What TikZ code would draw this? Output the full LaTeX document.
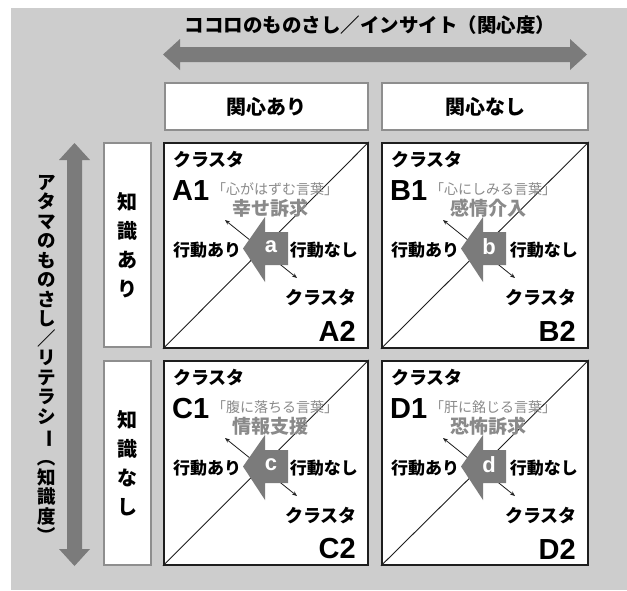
\documentclass[tikz,border=0pt]{standalone}
\usepackage{fontspec}
\usepackage{graphicx}
\setmainfont{Noto Sans CJK JP}
\newfontfamily\latinsans{Liberation Sans}
\usetikzlibrary{arrows.meta}
\definecolor{bggray}{HTML}{CDCDCD}
\definecolor{arrgray}{HTML}{7B7B7B}
\definecolor{txtgray}{HTML}{8A8A8A}
\definecolor{boxline}{HTML}{8E8E8E}
\definecolor{qline}{HTML}{1E1E1E}
\tikzset{
  hdrbox/.style={draw=boxline, line width=1.5pt, fill=white, inner sep=0pt},
  qbox/.style={draw=qline, line width=1.8pt, fill=white, inner sep=0pt, anchor=north west},
  diagline/.style={draw=qline, line width=0.9pt},
  thinarr/.style={draw=qline, line width=0.8pt, {Stealth[length=5pt,width=4pt]}-{Stealth[length=5pt,width=4pt]}},
  bigarrow/.style={fill=arrgray, draw=none},
  klbl/.style={inner sep=0pt, font=\bfseries\fontsize{18}{18}\selectfont},
  biglbl/.style={inner sep=0pt, font=\latinsans\bfseries\fontsize{29}{29}\selectfont},
  phrase/.style={inner sep=0pt, text=txtgray, font=\fontsize{14}{14}\selectfont},
  kword/.style={inner sep=0pt, text=txtgray, font=\bfseries\fontsize{19}{19}\selectfont},
  actlbl/.style={inner sep=0pt, font=\bfseries\fontsize{17}{17}\selectfont},
  letterlbl/.style={inner sep=0pt, text=white, font=\latinsans\bfseries\fontsize{22}{22}\selectfont},
  hdrtext/.style={font=\bfseries\fontsize{20}{20}\selectfont},
  vtext/.style={align=center, font=\bfseries\fontsize{20}{29}\selectfont},
}
\newcommand\qcell[9]{%
  \begin{scope}[shift={(#2,#3)}]
    \node[qbox, minimum width=#4pt, minimum height=#5pt] (q#1) at (0,0) {};
    \draw[diagline] (q#1.south west) -- (q#1.north east);
    \coordinate (ta#1) at (62,78);
    \coordinate (tb#1) at (134,136);
    \draw[thinarr] (ta#1) -- (tb#1);
    \fill[bigarrow] (80,106.5) -- (102,75) -- (102,90) -- (125,90) -- (125,123) -- (102,123) -- (102,140) -- cycle;
    \node[letterlbl] (l#1) at (108,105) {#9};
    \node[klbl, anchor=west] (k#1) at (10,18) {クラスタ};
    \node[biglbl, anchor=west] (n#1) at (9,49) {#61};
    \node[phrase] (p#1) at (112,47) {「#7」};
    \node[kword] (w#1) at (107,66) {#8};
    \node[actlbl, anchor=west] (y#1) at (10,108) {行動あり};
    \node[actlbl, anchor=east] (x#1) at ({#4-9},108) {行動なし};
    \node[klbl, anchor=east] (m#1) at ({#4-10},156) {クラスタ};
    \node[biglbl, anchor=east] (o#1) at ({#4-11},189) {#62};
  \end{scope}}
\begin{document}
\begin{tikzpicture}[x=1pt, y=-1pt]
  \useasboundingbox (0,0) rectangle (627,590);
  \fill[bggray] (11,8) rectangle (627,590);
  % title and horizontal double arrow
  \node[font=\bfseries\fontsize{19.5}{19.5}\selectfont, inner sep=0pt] (title) at (370,25) {ココロのものさし／インサイト（関心度）};
  \fill[bigarrow] (163,54.5) -- (180,39) -- (180,47) -- (570,47) -- (570,39) -- (587,54.5) -- (570,70) -- (570,62) -- (180,62) -- (180,70) -- cycle;
  % vertical double arrow
  \fill[bigarrow] (74.5,143) -- (90,160) -- (82,160) -- (82,549) -- (90,549) -- (74.5,566) -- (59,549) -- (67,549) -- (67,160) -- (59,160) -- cycle;
  \node[align=center, inner sep=0pt, font=\bfseries\fontsize{18.5}{19.5}\selectfont] (vtitle) at (47,360)
    {ア\\タ\\マ\\の\\も\\の\\さ\\し\\／\\リ\\テ\\ラ\\シ\\\rotatebox[origin=c]{-90}{ー}\\\rotatebox[origin=c]{-90}{（}\\知\\識\\度\\\rotatebox[origin=c]{-90}{）}};
  % header boxes
  \node[hdrbox, minimum width=203pt, minimum height=47pt] (hb1) at (266.5,106.5) {};
  \node[hdrtext] (ht1) at (hb1) {関心あり};
  \node[hdrbox, minimum width=206pt, minimum height=47pt] (hb2) at (485,106.5) {};
  \node[hdrtext] (ht2) at (hb2) {関心なし};
  % left boxes
  \node[hdrbox, minimum width=47pt, minimum height=204pt] (lb1) at (127.5,245) {};
  \node[vtext] (lt1) at (lb1) {知\\識\\あ\\り};
  \node[hdrbox, minimum width=47pt, minimum height=204pt] (lb2) at (127.5,463) {};
  \node[vtext] (lt2) at (lb2) {知\\識\\な\\し};
  % quadrants
  \qcell{a}{163}{142}{204}{205}{A}{心がはずむ言葉}{幸せ訴求}{a}
  \qcell{b}{381}{142}{206}{205}{B}{心にしみる言葉}{感情介入}{b}
  \qcell{c}{163}{360}{204}{204}{C}{腹に落ちる言葉}{情報支援}{c}
  \qcell{d}{381}{360}{206}{204}{D}{肝に銘じる言葉}{恐怖訴求}{d}
\end{tikzpicture}
\end{document}
